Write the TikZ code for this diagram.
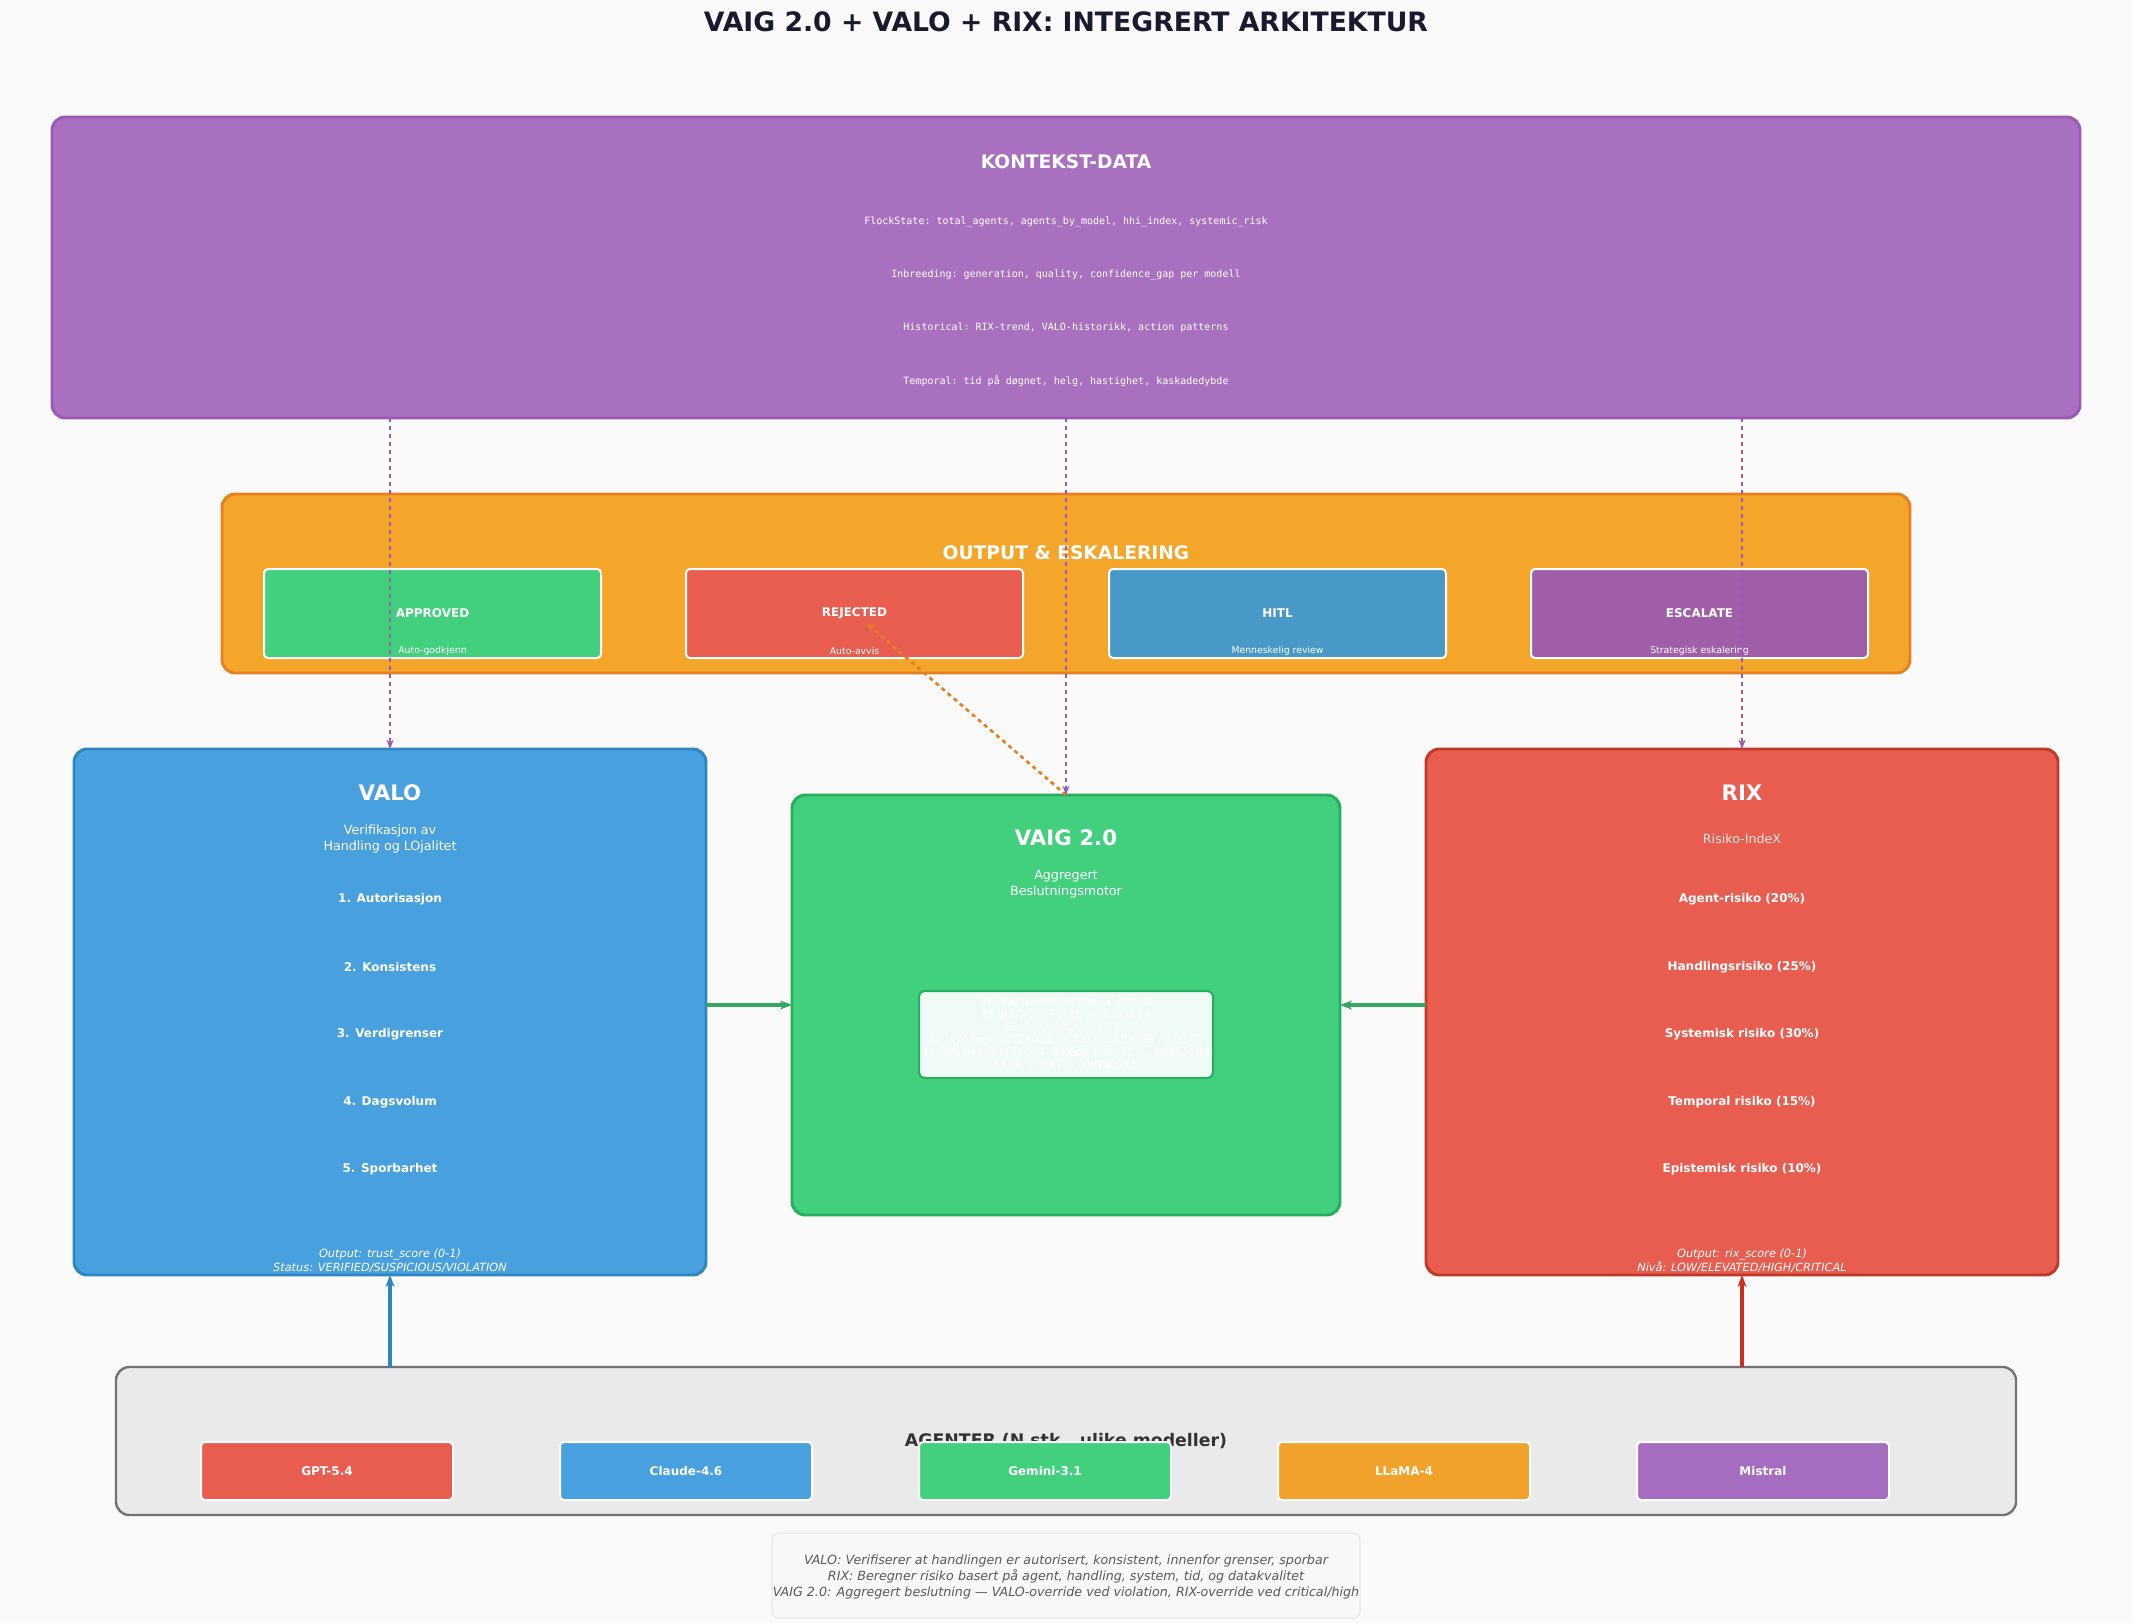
\documentclass[tikz,border=0pt]{standalone}
\usepackage{fontspec}
\setmainfont{DejaVu Sans}
\setmonofont{DejaVu Sans Mono}
\usetikzlibrary{arrows.meta}
\definecolor{bg}{HTML}{FAFAFA}
\definecolor{kf}{HTML}{AA70C0}\definecolor{kd}{HTML}{9B59B6}
\definecolor{of}{HTML}{F4A62A}\definecolor{od}{HTML}{E67E22}
\definecolor{vf}{HTML}{49A0DF}\definecolor{vd}{HTML}{2E86C1}
\definecolor{gf}{HTML}{42D07E}\definecolor{gd}{HTML}{27AE60}
\definecolor{rf}{HTML}{E95D50}\definecolor{rd}{HTML}{C0392B}
\definecolor{pf}{HTML}{A15EA8}\definecolor{hf}{HTML}{4898C8}
\definecolor{ttl}{HTML}{1A1A2E}\definecolor{ag}{HTML}{EAEAEA}
\definecolor{chipo}{HTML}{F0A22A}\definecolor{chipp}{HTML}{A66CC0}
\definecolor{notef}{HTML}{F7F8FA}
\begin{document}
\begin{tikzpicture}[x=0.75pt,y=-0.75pt,
 box/.style={rounded corners=10pt,line width=2.2pt},
 chip/.style={draw=white,line width=1.5pt,rounded corners=3pt},
 wt/.style={text=white,font=\bfseries\fontsize{#1}{#1}\selectfont},
 ws/.style={text=white,font=\fontsize{#1}{12}\selectfont,align=center},
 mono/.style={text=white,font=\ttfamily\fontsize{7.5}{9}\selectfont},
 item/.style={text=white,font=\bfseries\fontsize{9}{11}\selectfont}]
\fill[bg] (0,0) rectangle (2132,1623);
\node[text=ttl,font=\bfseries\fontsize{20}{24}\selectfont] (title) at (1066,22) {VAIG 2.0 + VALO + RIX: INTEGRERT ARKITEKTUR};
% Kontekst
\draw[box,fill=kf,draw=kd] (52,117) rectangle (2080,418);
\coordinate (k1) at (390,418);\coordinate (k2) at (1066,418);\coordinate (k3) at (1742,418);
\node[wt=14] (kt) at (1066,162) {KONTEKST-DATA};
\node[mono] (l1) at (1066,222) {FlockState: total\_agents, agents\_by\_model, hhi\_index, systemic\_risk};
\node[mono] (l2) at (1066,275) {Inbreeding: generation, quality, confidence\_gap per modell};
\node[mono] (l3) at (1066,328) {Historical: RIX-trend, VALO-historikk, action patterns};
\node[mono] (l4) at (1066,381) {Temporal: tid på døgnet, helg, hastighet, kaskadedybde};
% Output
\draw[box,fill=of,draw=od] (222,494) rectangle (1910,673);
\coordinate (ob) at (1066,673);
\node[wt=14] (ot) at (1066,553) {OUTPUT \& ESKALERING};
\foreach \x/\c/\n/\s/\nm in {264/gf/APPROVED/Auto-godkjenn/a,686/rf/REJECTED/Auto-avvis/b,1109/hf/HITL/Menneskelig review/c,1531/pf/ESCALATE/Strategisk eskalering/d}{
 \draw[chip,fill=\c] (\x,569) rectangle ++(337,89);
 \node[wt=9] (o\nm) at (\x+168.5,613) {\n};
 \node[ws=7] (os\nm) at (\x+168.5,651) {\s};}
% VALO
\draw[box,fill=vf,draw=vd] (74,749) rectangle (706,1275);
\coordinate (vt) at (390,749);\coordinate (vb) at (390,1275);\coordinate (vr) at (706,1005);
\node[wt=16] (vT) at (390,793) {VALO};
\node[ws=9.5] (vS) at (390,839) {Verifikasjon av\\Handling og LOjalitet};
\foreach \y/\t in {899/1. Autorisasjon,967/2. Konsistens,1034/3. Verdigrenser,1102/4. Dagsvolum,1169/5. Sporbarhet}
 \node[item] at (390,\y) {\t};
\node[text=white,align=center,font=\itshape\fontsize{8.5}{10.5}\selectfont] (vO) at (390,1261) {Output: trust\_score (0-1)\\Status: VERIFIED/SUSPICIOUS/VIOLATION};
% VAIG
\draw[box,fill=gf,draw=gd] (792,795) rectangle (1340,1215);
\coordinate (gt) at (1066,795);\coordinate (gl) at (792,1005);\coordinate (gr) at (1340,1005);
\node[wt=16] (gT) at (1066,838) {VAIG 2.0};
\node[ws=9.5] (gS) at (1066,884) {Aggregert\\Beslutningsmotor};
\draw[fill=white,fill opacity=0.93,draw=gd,line width=1.5pt,rounded corners=4pt] (919,991) rectangle (1213,1078);
\node[text=white,font=\ttfamily\fontsize{8.5}{9.4}\selectfont,align=center] (rules) at (1066,1034) {IF VALO=VIOLATION → AVVIS\\IF RIX=CRITICAL → ESKALER\\IF RIX=HIGH → HITL\\IF VALO=SUSPICIOUS + RIX=ELEVATED → HITL\\IF VALO=VERIFIED + RIX≤ELEVATED → GODKJENN\\ELSE → HITL (default)};
% RIX
\draw[box,fill=rf,draw=rd] (1426,749) rectangle (2058,1275);
\coordinate (rt) at (1742,749);\coordinate (rb) at (1742,1275);\coordinate (rl) at (1426,1005);
\node[ws=9.5,text=white!85!rf] (rS) at (1742,839) {Risiko-IndeX};
\node[wt=16] (rT) at (1742,793) {RIX};
\foreach \y/\t in {899/Agent-risiko (20\%),967/Handlingsrisiko (25\%),1034/Systemisk risiko (30\%),1102/Temporal risiko (15\%),1169/Epistemisk risiko (10\%)}
 \node[item] at (1742,\y) {\t};
\node[text=white,align=center,font=\itshape\fontsize{8.5}{10.5}\selectfont] (rO) at (1742,1261) {Output: rix\_score (0-1)\\Nivå: LOW/ELEVATED/HIGH/CRITICAL};
% Agents
\draw[rounded corners=10pt,line width=1.8pt,fill=ag,draw=black!55] (116,1367) rectangle (2016,1515);
\coordinate (a1) at (390,1367);\coordinate (a2) at (1742,1367);
\node[text=black!80,font=\bfseries\fontsize{13}{15}\selectfont] (at) at (1066,1441) {AGENTER (N stk., ulike modeller)};
\foreach \x/\c/\n in {201/rf/GPT-5.4,560/vf/Claude-4.6,919/gf/Gemini-3.1,1278/chipo/LLaMA-4,1637/chipp/Mistral}{
 \draw[chip,fill=\c] (\x,1442) rectangle ++(252,58);
 \node[wt=9] at (\x+126,1471) {\n};}
% connectors
\draw[kd,dashed,line width=2pt,-{Stealth[length=7pt]}] (k1) -- (vt);
\draw[kd,dashed,line width=2pt,-{Stealth[length=7pt]}] (k3) -- (rt);
\draw[od,dashed,line width=2pt,-{Stealth[length=7pt]}] (gt) -- (ob);
\draw[kd,dashed,line width=2pt,-{Stealth[length=7pt]}] (k2) -- (gt);
\draw[gf!80!black,line width=2.5pt,-{Stealth[length=9pt]}] (vr) -- (gl);
\draw[gf!80!black,line width=2.5pt,-{Stealth[length=9pt]}] (rl) -- (gr);
\draw[vd,line width=2.5pt,-{Stealth[length=9pt]}] (a1) -- (vb);
\draw[rd!80!red,line width=2.5pt,-{Stealth[length=9pt]}] (a2) -- (rb);
% note
\draw[rounded corners=5pt,fill=notef,draw=black!15] (772,1533) rectangle (1360,1618);
\node[text=black!65,font=\itshape\fontsize{9.5}{12}\selectfont,align=center] (note) at (1066,1577) {VALO: Verifiserer at handlingen er autorisert, konsistent, innenfor grenser, sporbar\\RIX: Beregner risiko basert på agent, handling, system, tid, og datakvalitet\\VAIG 2.0: Aggregert beslutning — VALO-override ved violation, RIX-override ved critical/high};
\end{tikzpicture}
\end{document}
